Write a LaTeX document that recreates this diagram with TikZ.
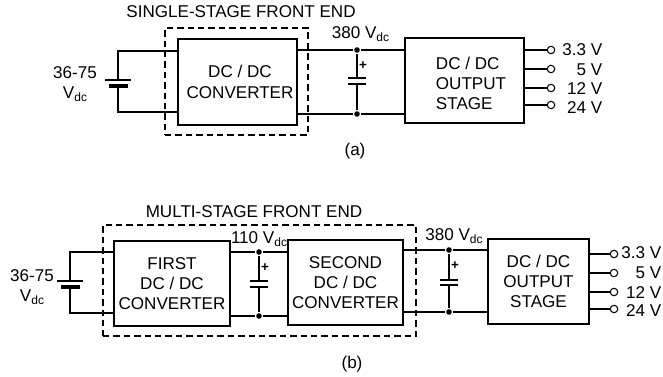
\documentclass[tikz,border=0pt]{standalone}
\usepackage{fontspec}
\setmainfont{Liberation Sans}
\newcommand{\Vdc}{V\raisebox{-2.2pt}{\fontsize{9}{9}\selectfont dc}}
\newcommand{\shiftln}{\hspace*{9.8pt}}

\begin{document}
\begin{tikzpicture}[
  x=.75pt, y=-.75pt,
  line width=1.1pt,
  font=\fontsize{12.8}{15.2}\selectfont,
  box/.style={draw, rectangle, inner sep=0pt, align=center},
  frontend/.style={draw, rectangle, inner sep=0pt, dash pattern=on 4.8pt off 3pt},
  txt/.style={inner sep=0pt, align=center},
  vout/.style={inner sep=0pt, anchor=east},
  dot/.style={circle, fill=black, inner sep=0pt, minimum size=4.2pt},
  term/.style={circle, draw, line width=.8pt, fill=white, inner sep=0pt, minimum size=5.6pt},
  longplate/.style={fill=black, inner sep=0pt, minimum height=1.1pt},
  shortplate/.style={fill=black, inner sep=0pt, minimum height=2.6pt},
  capplate/.style={fill=black, inner sep=0pt, minimum height=1.1pt, minimum width=13.5pt}]

  \useasboundingbox (0,0) rectangle (663,377);

  % (a)
  \node[frontend, minimum width=107.25pt, minimum height=80.25pt] (dashA) at (236.5,81.5) {};
  \node[box, minimum width=89.25pt, minimum height=64.5pt] (convA) at (237.5,82) {\hspace*{3.75pt}DC / DC\\\hspace*{3.75pt}CONVERTER};
  \node[box, align=left, minimum width=89.25pt, minimum height=63.75pt] (outA) at (464.5,80.5) {\shiftln\rule{0pt}{13.5pt}DC / DC\\\shiftln OUTPUT\\\shiftln STAGE};
  \node[txt] (titleA) at (241,12) {SINGLE-STAGE FRONT END};
  \node[txt] (inA) at (75,84) {36-75\\\Vdc};
  \node[txt] (busA) at (360.5,34) {380 \Vdc};
  \node[txt] (capA) at (355,151) {(a)};

  \coordinate (batAtop) at (118,51);
  \coordinate (batAbot) at (118,112);
  \node[longplate, minimum width=19.5pt] (batAp) at (118,80) {};
  \node[shortplate, minimum width=14.25pt] (batAn) at (118,86) {};
  \draw (convA.west |- batAtop) -- (batAtop) -- (batAp);
  \draw (batAn) -- (batAbot) -- (convA.west |- batAbot);

  \node[dot] (dotAtop) at (357,50) {};
  \node[dot] (dotAbot) at (357,114) {};
  \node[capplate] (capAp) at (357,78) {};
  \node[capplate] (capAn) at (357,84) {};
  \node[txt, font=\bfseries\fontsize{10}{10}\selectfont] (plusA) at (363,66) {+};
  \draw (convA.east |- dotAtop) -- (dotAtop) -- (outA.west |- dotAtop);
  \draw (convA.east |- dotAbot) -- (dotAbot) -- (outA.west |- dotAbot);
  \draw (dotAtop) -- (capAp);
  \draw (capAn) -- (dotAbot);

  \node[term] (termA1) at (551,50) {};
  \node[term] (termA2) at (551,69) {};
  \node[term] (termA3) at (551,88) {};
  \node[term] (termA4) at (551,105) {};
  \draw (outA.east |- termA1) -- (termA1);
  \draw (outA.east |- termA2) -- (termA2);
  \draw (outA.east |- termA3) -- (termA3);
  \draw (outA.east |- termA4) -- (termA4);
  \node[vout] (voutA1) at (603,50) {3.3 V};
  \node[vout] (voutA2) at (603,70) {5 V};
  \node[vout] (voutA3) at (603,89) {12 V};
  \node[vout] (voutA4) at (603,108) {24 V};

  % (b)
  \node[frontend, minimum width=234.75pt, minimum height=83.25pt] (dashB) at (259.5,280.5) {};
  \node[box, minimum width=87pt, minimum height=63.75pt] (firstB) at (172,283.5) {FIRST\\DC / DC\\CONVERTER};
  \node[box, minimum width=86.25pt, minimum height=63.75pt] (secondB) at (345.5,282.5) {SECOND\\DC / DC\\CONVERTER};
  \node[box, minimum width=75.75pt, minimum height=63.75pt] (outB) at (538.5,281.5) {DC / DC\\OUTPUT\\STAGE};
  \node[txt] (titleB) at (254,212) {MULTI-STAGE FRONT END};
  \node[txt] (inB) at (32,287) {36-75\\\Vdc};
  \node[txt] (midB) at (259,239) {110 \Vdc};
  \node[txt] (busB) at (454,236) {380 \Vdc};
  \node[txt] (capB) at (352,364) {(b)};

  \coordinate (batBtop) at (70,252);
  \coordinate (batBbot) at (70,313);
  \node[longplate, minimum width=19pt] (batBp) at (70,281) {};
  \node[shortplate, minimum width=14.25pt] (batBn) at (70,287) {};
  \draw (firstB.west |- batBtop) -- (batBtop) -- (batBp);
  \draw (batBn) -- (batBbot) -- (firstB.west |- batBbot);

  \node[dot] (dotB1top) at (259,252) {};
  \node[dot] (dotB1bot) at (259,316) {};
  \node[capplate] (capB1p) at (259,281) {};
  \node[capplate] (capB1n) at (259,287) {};
  \node[txt, font=\bfseries\fontsize{10}{10}\selectfont] (plusB1) at (265,268) {+};
  \draw (firstB.east |- dotB1top) -- (dotB1top) -- (secondB.west |- dotB1top);
  \draw (firstB.east |- dotB1bot) -- (dotB1bot) -- (secondB.west |- dotB1bot);
  \draw (dotB1top) -- (capB1p);
  \draw (capB1n) -- (dotB1bot);

  \node[dot] (dotB2top) at (449,250) {};
  \node[dot] (dotB2bot) at (449,312) {};
  \node[capplate] (capB2p) at (449,280) {};
  \node[capplate] (capB2n) at (449,285) {};
  \node[txt, font=\bfseries\fontsize{10}{10}\selectfont] (plusB2) at (455,266) {+};
  \draw (secondB.east |- dotB2top) -- (dotB2top) -- (outB.west |- dotB2top);
  \draw (secondB.east |- dotB2bot) -- (dotB2bot) -- (outB.west |- dotB2bot);
  \draw (dotB2top) -- (capB2p);
  \draw (capB2n) -- (dotB2bot);

  \node[term] (termB1) at (614,254) {};
  \node[term] (termB2) at (614,273) {};
  \node[term] (termB3) at (614,292) {};
  \node[term] (termB4) at (614,309) {};
  \draw (outB.east |- termB1) -- (termB1);
  \draw (outB.east |- termB2) -- (termB2);
  \draw (outB.east |- termB3) -- (termB3);
  \draw (outB.east |- termB4) -- (termB4);
  \node[vout] (voutB1) at (662,253) {3.3 V};
  \node[vout] (voutB2) at (662,273) {5 V};
  \node[vout] (voutB3) at (662,293) {12 V};
  \node[vout] (voutB4) at (662,311) {24 V};
\end{tikzpicture}
\end{document}
